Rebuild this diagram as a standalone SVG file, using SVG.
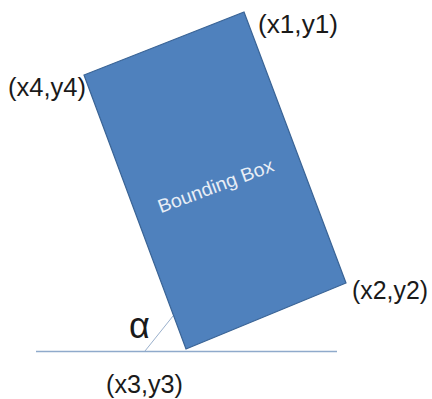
<svg xmlns="http://www.w3.org/2000/svg" width="432" height="399" viewBox="0 0 432 399">
<style>
.lbl{font-family:"Liberation Sans",Arial,sans-serif;font-size:26px;fill:#1a1a1a}
.box{fill:#4F81BD;stroke:#3A6496;stroke-width:1.2}
.ln{stroke:#8FAACB;stroke-width:1.5;fill:none}
.thin{stroke:#9AB0CC;stroke-width:1;fill:none}
</style>
<rect width="432" height="399" fill="#ffffff"/>
<g id="connectors">
<line class="ln" x1="36" y1="351.5" x2="337" y2="351.5"/>
<line class="thin" x1="145" y1="351" x2="173" y2="316"/>
</g>
<g id="bounding-box">
<polygon class="box" points="244,12 346,283 186,349 84,75"/>
<text x="218" y="192" transform="rotate(-20.5 218 192)" text-anchor="middle" font-family="Liberation Sans,Arial,sans-serif" font-size="19" fill="#E8EEF6" textLength="122" lengthAdjust="spacingAndGlyphs">Bounding Box</text>
</g>
<g id="label-p1"><text class="lbl" x="258" y="33" textLength="80" lengthAdjust="spacingAndGlyphs">(x1,y1)</text></g>
<g id="label-p4"><text class="lbl" x="8" y="96" textLength="78" lengthAdjust="spacingAndGlyphs">(x4,y4)</text></g>
<g id="label-p2"><text class="lbl" x="352" y="299" textLength="76" lengthAdjust="spacingAndGlyphs">(x2,y2)</text></g>
<g id="label-p3"><text class="lbl" x="106" y="393" textLength="77" lengthAdjust="spacingAndGlyphs">(x3,y3)</text></g>
<g id="label-alpha"><text class="lbl" x="129" y="338" style="font-size:36px">α</text></g>
</svg>
